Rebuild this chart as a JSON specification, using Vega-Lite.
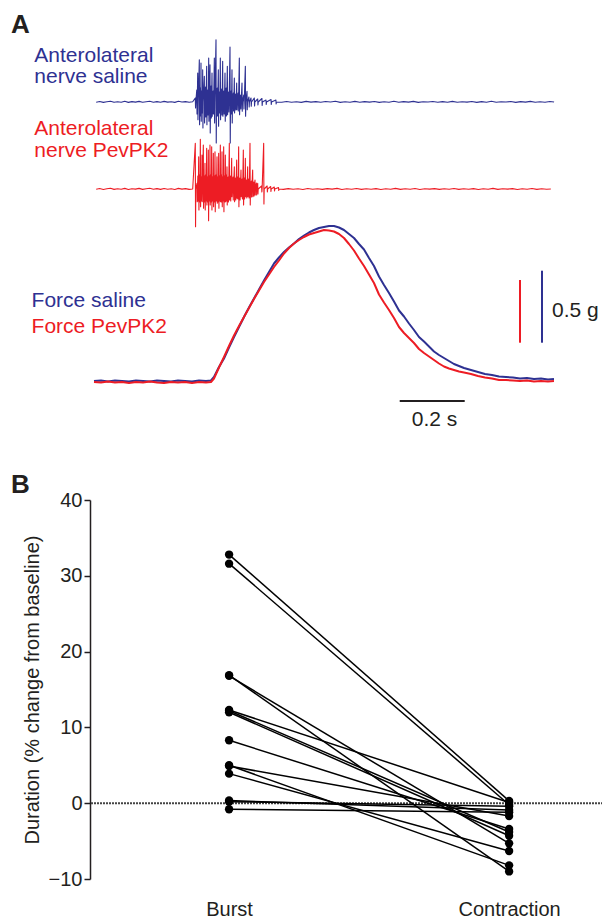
{
  "$schema": "https://vega.github.io/schema/vega-lite/v6.json",
  "padding": {"left": 10, "top": 0, "right": 0, "bottom": 0},
  "spacing": 12,
  "config": {
    "view": {"stroke": null},
    "font": "Liberation Sans",
    "axis": {"domainColor": "#231f20", "domainWidth": 1.5, "tickColor": "#231f20", "tickWidth": 1.5, "tickSize": 6, "labelFont": "Liberation Sans", "labelFontSize": 20, "labelColor": "#231f20", "labelPadding": 2, "titleFont": "Liberation Sans", "titleFontSize": 20, "titleFontWeight": "normal", "titleColor": "#231f20", "titlePadding": 6, "grid": false},
    "axisX": {"domain": false, "ticks": false, "tickSize": 0, "labelPadding": 20}
  },
  "datasets": {
    "nerve": [
      {"s":"saline","t":0.019,"v":37.78},{"s":"saline","t":0.03,"v":37.85},{"s":"saline","t":0.041,"v":37.76},{"s":"saline","t":0.052,"v":37.82},{"s":"saline","t":0.063,"v":37.88},{"s":"saline","t":0.074,"v":37.77},{"s":"saline","t":0.085,"v":37.83},{"s":"saline","t":0.096,"v":37.78},{"s":"saline","t":0.107,"v":37.87},{"s":"saline","t":0.118,"v":37.76},{"s":"saline","t":0.129,"v":37.84},{"s":"saline","t":0.14,"v":37.79},{"s":"saline","t":0.151,"v":37.86},{"s":"saline","t":0.162,"v":37.77},{"s":"saline","t":0.173,"v":37.83},{"s":"saline","t":0.184,"v":37.88},{"s":"saline","t":0.195,"v":37.78},{"s":"saline","t":0.206,"v":37.84},{"s":"saline","t":0.217,"v":37.77},{"s":"saline","t":0.228,"v":37.86},{"s":"saline","t":0.239,"v":37.79},{"s":"saline","t":0.25,"v":37.83},{"s":"saline","t":0.261,"v":37.76},{"s":"saline","t":0.272,"v":37.87},{"s":"saline","t":0.283,"v":37.8},{"s":"saline","t":0.294,"v":37.84},{"s":"saline","t":0.305,"v":37.77},{"s":"saline","t":0.316,"v":37.82},
      {"s":"saline","t":0.324,"v":38.2},{"s":"saline","t":0.3248,"v":37.2},{"s":"saline","t":0.3256,"v":37.8},
      {"s":"saline","t":0.3285,"v":39.0},{"s":"saline","t":0.3293,"v":36.6},{"s":"saline","t":0.3301,"v":37.8},
      {"s":"saline","t":0.3314,"v":40.7},{"s":"saline","t":0.3322,"v":36.03},{"s":"saline","t":0.333,"v":37.8},
      {"s":"saline","t":0.3364,"v":42.03},{"s":"saline","t":0.3372,"v":35.53},{"s":"saline","t":0.338,"v":37.8},
      {"s":"saline","t":0.3392,"v":39.2},{"s":"saline","t":0.34,"v":36.4},{"s":"saline","t":0.3408,"v":37.8},
      {"s":"saline","t":0.3415,"v":41.7},{"s":"saline","t":0.3423,"v":35.87},{"s":"saline","t":0.3431,"v":37.8},
      {"s":"saline","t":0.3443,"v":38.9},{"s":"saline","t":0.3451,"v":36.7},{"s":"saline","t":0.3459,"v":37.8},
      {"s":"saline","t":0.3467,"v":41.03},{"s":"saline","t":0.3475,"v":35.2},{"s":"saline","t":0.3483,"v":37.8},
      {"s":"saline","t":0.3518,"v":40.37},{"s":"saline","t":0.3526,"v":35.7},{"s":"saline","t":0.3534,"v":37.8},
      {"s":"saline","t":0.3555,"v":39.3},{"s":"saline","t":0.3563,"v":36.3},{"s":"saline","t":0.3571,"v":37.8},
      {"s":"saline","t":0.359,"v":41.37},{"s":"saline","t":0.3598,"v":35.53},{"s":"saline","t":0.3606,"v":37.8},
      {"s":"saline","t":0.3625,"v":39.0},{"s":"saline","t":0.3633,"v":36.5},{"s":"saline","t":0.3641,"v":37.8},
      {"s":"saline","t":0.3652,"v":42.2},{"s":"saline","t":0.366,"v":35.87},{"s":"saline","t":0.3668,"v":37.8},
      {"s":"saline","t":0.3692,"v":41.53},{"s":"saline","t":0.37,"v":34.7},{"s":"saline","t":0.3708,"v":37.8},
      {"s":"saline","t":0.3725,"v":39.4},{"s":"saline","t":0.3733,"v":36.2},{"s":"saline","t":0.3741,"v":37.8},
      {"s":"saline","t":0.3754,"v":40.7},{"s":"saline","t":0.3762,"v":36.37},{"s":"saline","t":0.377,"v":37.8},
      {"s":"saline","t":0.379,"v":38.9},{"s":"saline","t":0.3798,"v":36.6},{"s":"saline","t":0.3806,"v":37.8},
      {"s":"saline","t":0.3826,"v":42.2},{"s":"saline","t":0.3834,"v":35.7},{"s":"saline","t":0.3842,"v":37.8},
      {"s":"saline","t":0.3877,"v":44.03},{"s":"saline","t":0.3885,"v":33.7},{"s":"saline","t":0.3893,"v":37.8},
      {"s":"saline","t":0.3915,"v":39.2},{"s":"saline","t":0.3923,"v":36.4},{"s":"saline","t":0.3931,"v":37.8},
      {"s":"saline","t":0.3949,"v":41.03},{"s":"saline","t":0.3957,"v":35.37},{"s":"saline","t":0.3965,"v":37.8},
      {"s":"saline","t":0.398,"v":38.8},{"s":"saline","t":0.3988,"v":36.7},{"s":"saline","t":0.3996,"v":37.8},
      {"s":"saline","t":0.401,"v":42.2},{"s":"saline","t":0.4018,"v":36.03},{"s":"saline","t":0.4026,"v":37.8},
      {"s":"saline","t":0.405,"v":39.1},{"s":"saline","t":0.4058,"v":36.5},{"s":"saline","t":0.4066,"v":37.8},
      {"s":"saline","t":0.4082,"v":41.87},{"s":"saline","t":0.409,"v":36.37},{"s":"saline","t":0.4098,"v":37.8},
      {"s":"saline","t":0.412,"v":38.9},{"s":"saline","t":0.4128,"v":36.6},{"s":"saline","t":0.4136,"v":37.8},
      {"s":"saline","t":0.4154,"v":40.7},{"s":"saline","t":0.4162,"v":35.87},{"s":"saline","t":0.417,"v":37.8},
      {"s":"saline","t":0.419,"v":39.2},{"s":"saline","t":0.4198,"v":36.4},{"s":"saline","t":0.4206,"v":37.8},
      {"s":"saline","t":0.4226,"v":41.37},{"s":"saline","t":0.4234,"v":36.53},{"s":"saline","t":0.4242,"v":37.8},
      {"s":"saline","t":0.4265,"v":38.8},{"s":"saline","t":0.4273,"v":36.8},{"s":"saline","t":0.4281,"v":37.8},
      {"s":"saline","t":0.4308,"v":43.3},{"s":"saline","t":0.4316,"v":33.7},{"s":"saline","t":0.4324,"v":37.8},
      {"s":"saline","t":0.434,"v":38.9},{"s":"saline","t":0.4348,"v":36.6},{"s":"saline","t":0.4356,"v":37.8},
      {"s":"saline","t":0.4369,"v":41.03},{"s":"saline","t":0.4377,"v":35.7},{"s":"saline","t":0.4385,"v":37.8},
      {"s":"saline","t":0.441,"v":38.7},{"s":"saline","t":0.4418,"v":36.9},{"s":"saline","t":0.4426,"v":37.8},
      {"s":"saline","t":0.4441,"v":40.2},{"s":"saline","t":0.4449,"v":36.7},{"s":"saline","t":0.4457,"v":37.8},
      {"s":"saline","t":0.448,"v":38.6},{"s":"saline","t":0.4488,"v":37.0},{"s":"saline","t":0.4496,"v":37.8},
      {"s":"saline","t":0.4513,"v":39.7},{"s":"saline","t":0.4521,"v":37.03},{"s":"saline","t":0.4529,"v":37.8},
      {"s":"saline","t":0.4555,"v":38.7},{"s":"saline","t":0.4563,"v":36.9},{"s":"saline","t":0.4571,"v":37.8},
      {"s":"saline","t":0.4595,"v":42.2},{"s":"saline","t":0.4603,"v":36.53},{"s":"saline","t":0.4611,"v":37.8},
      {"s":"saline","t":0.4635,"v":38.5},{"s":"saline","t":0.4643,"v":37.1},{"s":"saline","t":0.4651,"v":37.8},
      {"s":"saline","t":0.4677,"v":39.7},{"s":"saline","t":0.4685,"v":36.87},{"s":"saline","t":0.4693,"v":37.8},
      {"s":"saline","t":0.473,"v":38.5},{"s":"saline","t":0.4738,"v":37.1},{"s":"saline","t":0.4746,"v":37.8},
      {"s":"saline","t":0.478,"v":41.37},{"s":"saline","t":0.4788,"v":36.37},{"s":"saline","t":0.4796,"v":37.8},
      {"s":"saline","t":0.4831,"v":38.87},{"s":"saline","t":0.4839,"v":37.03},{"s":"saline","t":0.4847,"v":37.8},
      {"s":"saline","t":0.489,"v":38.3},{"s":"saline","t":0.4898,"v":37.3},{"s":"saline","t":0.4906,"v":37.8},
      {"s":"saline","t":0.4954,"v":38.2},{"s":"saline","t":0.4962,"v":37.37},{"s":"saline","t":0.497,"v":37.8},
      {"s":"saline","t":0.5056,"v":38.2},{"s":"saline","t":0.5064,"v":37.4},{"s":"saline","t":0.5072,"v":37.8},
      {"s":"saline","t":0.516,"v":38.1},{"s":"saline","t":0.5168,"v":37.5},{"s":"saline","t":0.5176,"v":37.8},
      {"s":"saline","t":0.529,"v":38.15},{"s":"saline","t":0.5298,"v":37.45},{"s":"saline","t":0.5306,"v":37.8},
      {"s":"saline","t":0.5415,"v":38.0},{"s":"saline","t":0.5423,"v":37.55},{"s":"saline","t":0.5431,"v":37.8},
      {"s":"saline","t":0.557,"v":38.05},{"s":"saline","t":0.5578,"v":37.55},{"s":"saline","t":0.5586,"v":37.8},
      {"s":"saline","t":0.572,"v":38.0},{"s":"saline","t":0.5728,"v":37.6},{"s":"saline","t":0.5736,"v":37.8},
      {"s":"saline","t":0.59,"v":37.77},{"s":"saline","t":0.605,"v":37.85},{"s":"saline","t":0.62,"v":37.78},{"s":"saline","t":0.635,"v":37.83},{"s":"saline","t":0.65,"v":37.76},{"s":"saline","t":0.665,"v":37.86},{"s":"saline","t":0.68,"v":37.79},{"s":"saline","t":0.695,"v":37.84},{"s":"saline","t":0.71,"v":37.77},{"s":"saline","t":0.725,"v":37.85},{"s":"saline","t":0.74,"v":37.8},{"s":"saline","t":0.755,"v":37.87},{"s":"saline","t":0.77,"v":37.76},{"s":"saline","t":0.785,"v":37.83},{"s":"saline","t":0.8,"v":37.78},{"s":"saline","t":0.815,"v":37.86},{"s":"saline","t":0.83,"v":37.77},{"s":"saline","t":0.845,"v":37.84},{"s":"saline","t":0.86,"v":37.79},{"s":"saline","t":0.875,"v":37.85},{"s":"saline","t":0.89,"v":37.76},{"s":"saline","t":0.905,"v":37.83},{"s":"saline","t":0.92,"v":37.78},{"s":"saline","t":0.935,"v":37.87},{"s":"saline","t":0.95,"v":37.77},{"s":"saline","t":0.965,"v":37.84},{"s":"saline","t":0.98,"v":37.79},{"s":"saline","t":0.995,"v":37.86},{"s":"saline","t":1.01,"v":37.76},{"s":"saline","t":1.025,"v":37.83},{"s":"saline","t":1.04,"v":37.8},{"s":"saline","t":1.055,"v":37.85},{"s":"saline","t":1.07,"v":37.77},{"s":"saline","t":1.085,"v":37.84},{"s":"saline","t":1.1,"v":37.78},{"s":"saline","t":1.115,"v":37.86},{"s":"saline","t":1.13,"v":37.77},{"s":"saline","t":1.145,"v":37.83},{"s":"saline","t":1.16,"v":37.79},{"s":"saline","t":1.175,"v":37.85},{"s":"saline","t":1.19,"v":37.76},{"s":"saline","t":1.205,"v":37.84},{"s":"saline","t":1.22,"v":37.78},{"s":"saline","t":1.235,"v":37.87},{"s":"saline","t":1.25,"v":37.77},{"s":"saline","t":1.265,"v":37.83},{"s":"saline","t":1.28,"v":37.8},{"s":"saline","t":1.295,"v":37.85},{"s":"saline","t":1.31,"v":37.76},{"s":"saline","t":1.325,"v":37.84},{"s":"saline","t":1.34,"v":37.79},{"s":"saline","t":1.355,"v":37.86},{"s":"saline","t":1.37,"v":37.77},{"s":"saline","t":1.385,"v":37.83},{"s":"saline","t":1.4,"v":37.78},{"s":"saline","t":1.415,"v":37.85},{"s":"saline","t":1.428,"v":37.8},

      {"s":"PevPK2","t":0.019,"v":29.08},{"s":"PevPK2","t":0.03,"v":29.15},{"s":"PevPK2","t":0.041,"v":29.05},{"s":"PevPK2","t":0.052,"v":29.12},{"s":"PevPK2","t":0.063,"v":29.17},{"s":"PevPK2","t":0.074,"v":29.06},{"s":"PevPK2","t":0.085,"v":29.13},{"s":"PevPK2","t":0.096,"v":29.08},{"s":"PevPK2","t":0.107,"v":29.16},{"s":"PevPK2","t":0.118,"v":29.05},{"s":"PevPK2","t":0.129,"v":29.13},{"s":"PevPK2","t":0.14,"v":29.09},{"s":"PevPK2","t":0.151,"v":29.16},{"s":"PevPK2","t":0.162,"v":29.06},{"s":"PevPK2","t":0.173,"v":29.12},{"s":"PevPK2","t":0.184,"v":29.17},{"s":"PevPK2","t":0.195,"v":29.07},{"s":"PevPK2","t":0.206,"v":29.14},{"s":"PevPK2","t":0.217,"v":29.06},{"s":"PevPK2","t":0.228,"v":29.15},{"s":"PevPK2","t":0.239,"v":29.08},{"s":"PevPK2","t":0.25,"v":29.13},{"s":"PevPK2","t":0.261,"v":29.05},{"s":"PevPK2","t":0.272,"v":29.16},{"s":"PevPK2","t":0.283,"v":29.09},{"s":"PevPK2","t":0.294,"v":29.14},{"s":"PevPK2","t":0.305,"v":29.06},{"s":"PevPK2","t":0.316,"v":29.1},
      {"s":"PevPK2","t":0.324,"v":33.67},{"s":"PevPK2","t":0.3248,"v":25.33},{"s":"PevPK2","t":0.3256,"v":29.1},
      {"s":"PevPK2","t":0.3292,"v":29.67},{"s":"PevPK2","t":0.33,"v":27.83},{"s":"PevPK2","t":0.3308,"v":29.1},
      {"s":"PevPK2","t":0.3318,"v":30.4},{"s":"PevPK2","t":0.3326,"v":27.9},{"s":"PevPK2","t":0.3334,"v":29.1},
      {"s":"PevPK2","t":0.3344,"v":32.33},{"s":"PevPK2","t":0.3352,"v":27.0},{"s":"PevPK2","t":0.336,"v":29.1},
      {"s":"PevPK2","t":0.337,"v":30.5},{"s":"PevPK2","t":0.3378,"v":27.8},{"s":"PevPK2","t":0.3386,"v":29.1},
      {"s":"PevPK2","t":0.3395,"v":34.07},{"s":"PevPK2","t":0.3403,"v":27.33},{"s":"PevPK2","t":0.3411,"v":29.1},
      {"s":"PevPK2","t":0.342,"v":30.3},{"s":"PevPK2","t":0.3428,"v":27.9},{"s":"PevPK2","t":0.3436,"v":29.1},
      {"s":"PevPK2","t":0.3446,"v":32.5},{"s":"PevPK2","t":0.3454,"v":27.83},{"s":"PevPK2","t":0.3462,"v":29.1},
      {"s":"PevPK2","t":0.3487,"v":33.5},{"s":"PevPK2","t":0.3495,"v":27.17},{"s":"PevPK2","t":0.3503,"v":29.1},
      {"s":"PevPK2","t":0.3513,"v":30.4},{"s":"PevPK2","t":0.3521,"v":27.8},{"s":"PevPK2","t":0.3529,"v":29.1},
      {"s":"PevPK2","t":0.3538,"v":31.67},{"s":"PevPK2","t":0.3546,"v":27.0},{"s":"PevPK2","t":0.3554,"v":29.1},
      {"s":"PevPK2","t":0.3565,"v":30.5},{"s":"PevPK2","t":0.3573,"v":27.9},{"s":"PevPK2","t":0.3581,"v":29.1},
      {"s":"PevPK2","t":0.359,"v":33.17},{"s":"PevPK2","t":0.3598,"v":27.5},{"s":"PevPK2","t":0.3606,"v":29.1},
      {"s":"PevPK2","t":0.3617,"v":30.3},{"s":"PevPK2","t":0.3625,"v":27.8},{"s":"PevPK2","t":0.3633,"v":29.1},
      {"s":"PevPK2","t":0.3641,"v":33.0},{"s":"PevPK2","t":0.3649,"v":25.93},{"s":"PevPK2","t":0.3657,"v":29.1},
      {"s":"PevPK2","t":0.3667,"v":30.4},{"s":"PevPK2","t":0.3675,"v":27.9},{"s":"PevPK2","t":0.3683,"v":29.1},
      {"s":"PevPK2","t":0.3692,"v":33.5},{"s":"PevPK2","t":0.37,"v":27.5},{"s":"PevPK2","t":0.3708,"v":29.1},
      {"s":"PevPK2","t":0.3718,"v":30.5},{"s":"PevPK2","t":0.3726,"v":27.8},{"s":"PevPK2","t":0.3734,"v":29.1},
      {"s":"PevPK2","t":0.3744,"v":33.33},{"s":"PevPK2","t":0.3752,"v":27.0},{"s":"PevPK2","t":0.376,"v":29.1},
      {"s":"PevPK2","t":0.377,"v":30.3},{"s":"PevPK2","t":0.3778,"v":27.9},{"s":"PevPK2","t":0.3786,"v":29.1},
      {"s":"PevPK2","t":0.3795,"v":32.67},{"s":"PevPK2","t":0.3803,"v":27.33},{"s":"PevPK2","t":0.3811,"v":29.1},
      {"s":"PevPK2","t":0.382,"v":30.4},{"s":"PevPK2","t":0.3828,"v":27.8},{"s":"PevPK2","t":0.3836,"v":29.1},
      {"s":"PevPK2","t":0.3846,"v":32.83},{"s":"PevPK2","t":0.3854,"v":26.83},{"s":"PevPK2","t":0.3862,"v":29.1},
      {"s":"PevPK2","t":0.3877,"v":30.5},{"s":"PevPK2","t":0.3885,"v":27.9},{"s":"PevPK2","t":0.3893,"v":29.1},
      {"s":"PevPK2","t":0.3908,"v":32.33},{"s":"PevPK2","t":0.3916,"v":27.67},{"s":"PevPK2","t":0.3924,"v":29.1},
      {"s":"PevPK2","t":0.3934,"v":30.3},{"s":"PevPK2","t":0.3942,"v":27.8},{"s":"PevPK2","t":0.395,"v":29.1},
      {"s":"PevPK2","t":0.3959,"v":32.67},{"s":"PevPK2","t":0.3967,"v":27.17},{"s":"PevPK2","t":0.3975,"v":29.1},
      {"s":"PevPK2","t":0.3985,"v":30.4},{"s":"PevPK2","t":0.3993,"v":27.9},{"s":"PevPK2","t":0.4001,"v":29.1},
      {"s":"PevPK2","t":0.401,"v":33.5},{"s":"PevPK2","t":0.4018,"v":27.83},{"s":"PevPK2","t":0.4026,"v":29.1},
      {"s":"PevPK2","t":0.4036,"v":30.5},{"s":"PevPK2","t":0.4044,"v":27.8},{"s":"PevPK2","t":0.4052,"v":29.1},
      {"s":"PevPK2","t":0.4062,"v":32.83},{"s":"PevPK2","t":0.407,"v":27.33},{"s":"PevPK2","t":0.4078,"v":29.1},
      {"s":"PevPK2","t":0.4088,"v":30.3},{"s":"PevPK2","t":0.4096,"v":27.9},{"s":"PevPK2","t":0.4104,"v":29.1},
      {"s":"PevPK2","t":0.4113,"v":33.33},{"s":"PevPK2","t":0.4121,"v":26.83},{"s":"PevPK2","t":0.4129,"v":29.1},
      {"s":"PevPK2","t":0.4139,"v":30.4},{"s":"PevPK2","t":0.4147,"v":27.8},{"s":"PevPK2","t":0.4155,"v":29.1},
      {"s":"PevPK2","t":0.4164,"v":32.5},{"s":"PevPK2","t":0.4172,"v":27.83},{"s":"PevPK2","t":0.418,"v":29.1},
      {"s":"PevPK2","t":0.419,"v":30.5},{"s":"PevPK2","t":0.4198,"v":27.9},{"s":"PevPK2","t":0.4206,"v":29.1},
      {"s":"PevPK2","t":0.4215,"v":31.33},{"s":"PevPK2","t":0.4223,"v":27.5},{"s":"PevPK2","t":0.4231,"v":29.1},
      {"s":"PevPK2","t":0.4251,"v":30.3},{"s":"PevPK2","t":0.4259,"v":27.8},{"s":"PevPK2","t":0.4267,"v":29.1},
      {"s":"PevPK2","t":0.4287,"v":33.67},{"s":"PevPK2","t":0.4295,"v":28.0},{"s":"PevPK2","t":0.4303,"v":29.1},
      {"s":"PevPK2","t":0.4323,"v":30.4},{"s":"PevPK2","t":0.4331,"v":27.9},{"s":"PevPK2","t":0.4339,"v":29.1},
      {"s":"PevPK2","t":0.4359,"v":32.17},{"s":"PevPK2","t":0.4367,"v":28.33},{"s":"PevPK2","t":0.4375,"v":29.1},
      {"s":"PevPK2","t":0.44,"v":30.3},{"s":"PevPK2","t":0.4408,"v":28.0},{"s":"PevPK2","t":0.4416,"v":29.1},
      {"s":"PevPK2","t":0.4441,"v":31.33},{"s":"PevPK2","t":0.4449,"v":27.83},{"s":"PevPK2","t":0.4457,"v":29.1},
      {"s":"PevPK2","t":0.4477,"v":30.2},{"s":"PevPK2","t":0.4485,"v":28.0},{"s":"PevPK2","t":0.4493,"v":29.1},
      {"s":"PevPK2","t":0.4513,"v":32.0},{"s":"PevPK2","t":0.4521,"v":28.17},{"s":"PevPK2","t":0.4529,"v":29.1},
      {"s":"PevPK2","t":0.4544,"v":30.3},{"s":"PevPK2","t":0.4552,"v":28.1},{"s":"PevPK2","t":0.456,"v":29.1},
      {"s":"PevPK2","t":0.4574,"v":33.33},{"s":"PevPK2","t":0.4582,"v":27.33},{"s":"PevPK2","t":0.459,"v":29.1},
      {"s":"PevPK2","t":0.461,"v":30.2},{"s":"PevPK2","t":0.4618,"v":28.0},{"s":"PevPK2","t":0.4626,"v":29.1},
      {"s":"PevPK2","t":0.4646,"v":31.0},{"s":"PevPK2","t":0.4654,"v":28.33},{"s":"PevPK2","t":0.4662,"v":29.1},
      {"s":"PevPK2","t":0.4682,"v":30.1},{"s":"PevPK2","t":0.469,"v":28.1},{"s":"PevPK2","t":0.4698,"v":29.1},
      {"s":"PevPK2","t":0.4718,"v":33.0},{"s":"PevPK2","t":0.4726,"v":27.5},{"s":"PevPK2","t":0.4734,"v":29.1},
      {"s":"PevPK2","t":0.4749,"v":30.2},{"s":"PevPK2","t":0.4757,"v":28.1},{"s":"PevPK2","t":0.4765,"v":29.1},
      {"s":"PevPK2","t":0.478,"v":32.17},{"s":"PevPK2","t":0.4788,"v":28.33},{"s":"PevPK2","t":0.4796,"v":29.1},
      {"s":"PevPK2","t":0.4816,"v":30.0},{"s":"PevPK2","t":0.4824,"v":28.2},{"s":"PevPK2","t":0.4832,"v":29.1},
      {"s":"PevPK2","t":0.4851,"v":31.33},{"s":"PevPK2","t":0.4859,"v":28.33},{"s":"PevPK2","t":0.4867,"v":29.1},
      {"s":"PevPK2","t":0.4887,"v":30.1},{"s":"PevPK2","t":0.4895,"v":28.2},{"s":"PevPK2","t":0.4903,"v":29.1},
      {"s":"PevPK2","t":0.4923,"v":33.67},{"s":"PevPK2","t":0.4931,"v":27.5},{"s":"PevPK2","t":0.4939,"v":29.1},
      {"s":"PevPK2","t":0.4964,"v":29.9},{"s":"PevPK2","t":0.4972,"v":28.3},{"s":"PevPK2","t":0.498,"v":29.1},
      {"s":"PevPK2","t":0.5005,"v":31.0},{"s":"PevPK2","t":0.5013,"v":28.33},{"s":"PevPK2","t":0.5021,"v":29.1},
      {"s":"PevPK2","t":0.5041,"v":29.8},{"s":"PevPK2","t":0.5049,"v":28.4},{"s":"PevPK2","t":0.5057,"v":29.1},
      {"s":"PevPK2","t":0.5077,"v":30.0},{"s":"PevPK2","t":0.5085,"v":28.5},{"s":"PevPK2","t":0.5093,"v":29.1},
      {"s":"PevPK2","t":0.512,"v":29.7},{"s":"PevPK2","t":0.5128,"v":28.5},{"s":"PevPK2","t":0.5136,"v":29.1},
      {"s":"PevPK2","t":0.516,"v":29.67},{"s":"PevPK2","t":0.5168,"v":28.6},{"s":"PevPK2","t":0.5176,"v":29.1},
      {"s":"PevPK2","t":0.528,"v":29.4},{"s":"PevPK2","t":0.5288,"v":28.8},{"s":"PevPK2","t":0.5296,"v":29.1},
      {"s":"PevPK2","t":0.5344,"v":33.67},{"s":"PevPK2","t":0.5352,"v":27.6},{"s":"PevPK2","t":0.536,"v":29.1},
      {"s":"PevPK2","t":0.545,"v":29.4},{"s":"PevPK2","t":0.5458,"v":28.8},{"s":"PevPK2","t":0.5466,"v":29.1},
      {"s":"PevPK2","t":0.556,"v":29.35},{"s":"PevPK2","t":0.5568,"v":28.85},{"s":"PevPK2","t":0.5576,"v":29.1},
      {"s":"PevPK2","t":0.567,"v":29.3},{"s":"PevPK2","t":0.5678,"v":28.9},{"s":"PevPK2","t":0.5686,"v":29.1},
      {"s":"PevPK2","t":0.58,"v":29.25},{"s":"PevPK2","t":0.5808,"v":28.95},{"s":"PevPK2","t":0.5816,"v":29.1},
      {"s":"PevPK2","t":0.595,"v":29.06},{"s":"PevPK2","t":0.61,"v":29.14},{"s":"PevPK2","t":0.625,"v":29.07},{"s":"PevPK2","t":0.64,"v":29.12},{"s":"PevPK2","t":0.655,"v":29.05},{"s":"PevPK2","t":0.67,"v":29.15},{"s":"PevPK2","t":0.685,"v":29.08},{"s":"PevPK2","t":0.7,"v":29.13},{"s":"PevPK2","t":0.715,"v":29.06},{"s":"PevPK2","t":0.73,"v":29.14},{"s":"PevPK2","t":0.745,"v":29.09},{"s":"PevPK2","t":0.76,"v":29.16},{"s":"PevPK2","t":0.775,"v":29.05},{"s":"PevPK2","t":0.79,"v":29.12},{"s":"PevPK2","t":0.805,"v":29.07},{"s":"PevPK2","t":0.82,"v":29.15},{"s":"PevPK2","t":0.835,"v":29.06},{"s":"PevPK2","t":0.85,"v":29.13},{"s":"PevPK2","t":0.865,"v":29.08},{"s":"PevPK2","t":0.88,"v":29.14},{"s":"PevPK2","t":0.895,"v":29.05},{"s":"PevPK2","t":0.91,"v":29.12},{"s":"PevPK2","t":0.925,"v":29.07},{"s":"PevPK2","t":0.94,"v":29.16},{"s":"PevPK2","t":0.955,"v":29.06},{"s":"PevPK2","t":0.97,"v":29.13},{"s":"PevPK2","t":0.985,"v":29.08},{"s":"PevPK2","t":1.0,"v":29.15},{"s":"PevPK2","t":1.015,"v":29.05},{"s":"PevPK2","t":1.03,"v":29.12},{"s":"PevPK2","t":1.045,"v":29.09},{"s":"PevPK2","t":1.06,"v":29.14},{"s":"PevPK2","t":1.075,"v":29.06},{"s":"PevPK2","t":1.09,"v":29.13},{"s":"PevPK2","t":1.105,"v":29.07},{"s":"PevPK2","t":1.12,"v":29.15},{"s":"PevPK2","t":1.135,"v":29.06},{"s":"PevPK2","t":1.15,"v":29.12},{"s":"PevPK2","t":1.165,"v":29.08},{"s":"PevPK2","t":1.18,"v":29.14},{"s":"PevPK2","t":1.195,"v":29.05},{"s":"PevPK2","t":1.21,"v":29.13},{"s":"PevPK2","t":1.225,"v":29.07},{"s":"PevPK2","t":1.24,"v":29.16},{"s":"PevPK2","t":1.255,"v":29.06},{"s":"PevPK2","t":1.27,"v":29.12},{"s":"PevPK2","t":1.285,"v":29.09},{"s":"PevPK2","t":1.3,"v":29.14},{"s":"PevPK2","t":1.315,"v":29.05},{"s":"PevPK2","t":1.33,"v":29.13},{"s":"PevPK2","t":1.345,"v":29.08},{"s":"PevPK2","t":1.36,"v":29.15},{"s":"PevPK2","t":1.375,"v":29.06},{"s":"PevPK2","t":1.39,"v":29.12},{"s":"PevPK2","t":1.405,"v":29.07},{"s":"PevPK2","t":1.418,"v":29.1}
    ],
    "force": [
      {"s":"saline","t":0.0123,"v":9.9},{"s":"saline","t":0.0338,"v":9.95},{"s":"saline","t":0.0554,"v":9.85},{"s":"saline","t":0.0769,"v":9.95},{"s":"saline","t":0.0985,"v":9.9},{"s":"saline","t":0.12,"v":9.85},{"s":"saline","t":0.1415,"v":9.95},{"s":"saline","t":0.1631,"v":9.9},{"s":"saline","t":0.1846,"v":9.85},{"s":"saline","t":0.2062,"v":9.95},{"s":"saline","t":0.2277,"v":9.9},{"s":"saline","t":0.2492,"v":9.85},{"s":"saline","t":0.2708,"v":9.95},{"s":"saline","t":0.2923,"v":9.9},{"s":"saline","t":0.3138,"v":9.85},{"s":"saline","t":0.3354,"v":9.95},{"s":"saline","t":0.3569,"v":9.9},{"s":"saline","t":0.3723,"v":9.95},{"s":"saline","t":0.3815,"v":10.3},{"s":"saline","t":0.3969,"v":11.3},{"s":"saline","t":0.4123,"v":12.15},{"s":"saline","t":0.4277,"v":13.25},{"s":"saline","t":0.4431,"v":14.3},{"s":"saline","t":0.4585,"v":15.3},{"s":"saline","t":0.4738,"v":16.3},{"s":"saline","t":0.4892,"v":17.25},{"s":"saline","t":0.5046,"v":18.15},{"s":"saline","t":0.52,"v":19.05},{"s":"saline","t":0.5354,"v":19.95},{"s":"saline","t":0.5508,"v":20.8},{"s":"saline","t":0.5662,"v":21.65},{"s":"saline","t":0.5815,"v":22.25},{"s":"saline","t":0.5969,"v":22.8},{"s":"saline","t":0.6123,"v":23.25},{"s":"saline","t":0.6277,"v":23.65},{"s":"saline","t":0.6431,"v":24.1},{"s":"saline","t":0.6585,"v":24.45},{"s":"saline","t":0.6738,"v":24.75},{"s":"saline","t":0.6892,"v":25.0},{"s":"saline","t":0.7046,"v":25.2},{"s":"saline","t":0.72,"v":25.3},{"s":"saline","t":0.7354,"v":25.4},{"s":"saline","t":0.7508,"v":25.4},{"s":"saline","t":0.7662,"v":25.25},{"s":"saline","t":0.7815,"v":25.0},{"s":"saline","t":0.7969,"v":24.6},{"s":"saline","t":0.8123,"v":24.2},{"s":"saline","t":0.8277,"v":23.6},{"s":"saline","t":0.8431,"v":23.05},{"s":"saline","t":0.8585,"v":22.2},{"s":"saline","t":0.8738,"v":21.4},{"s":"saline","t":0.8892,"v":20.35},{"s":"saline","t":0.9046,"v":19.5},{"s":"saline","t":0.92,"v":18.7},{"s":"saline","t":0.9354,"v":17.85},{"s":"saline","t":0.9508,"v":16.95},{"s":"saline","t":0.9662,"v":16.35},{"s":"saline","t":0.9815,"v":15.65},{"s":"saline","t":0.9969,"v":15.0},{"s":"saline","t":1.0123,"v":14.3},{"s":"saline","t":1.0277,"v":13.85},{"s":"saline","t":1.0431,"v":13.35},{"s":"saline","t":1.0585,"v":12.85},{"s":"saline","t":1.0738,"v":12.5},{"s":"saline","t":1.0892,"v":12.2},{"s":"saline","t":1.1046,"v":11.9},{"s":"saline","t":1.12,"v":11.6},{"s":"saline","t":1.1354,"v":11.4},{"s":"saline","t":1.1508,"v":11.2},{"s":"saline","t":1.1723,"v":11.0},{"s":"saline","t":1.1938,"v":10.8},{"s":"saline","t":1.2154,"v":10.6},{"s":"saline","t":1.2369,"v":10.5},{"s":"saline","t":1.2585,"v":10.35},{"s":"saline","t":1.28,"v":10.3},{"s":"saline","t":1.3015,"v":10.25},{"s":"saline","t":1.3231,"v":10.15},{"s":"saline","t":1.3446,"v":10.2},{"s":"saline","t":1.3662,"v":10.1},{"s":"saline","t":1.3877,"v":10.15},{"s":"saline","t":1.4092,"v":10.05},{"s":"saline","t":1.4277,"v":10.1},
      {"s":"PevPK2","t":0.0123,"v":9.8},{"s":"PevPK2","t":0.0338,"v":9.75},{"s":"PevPK2","t":0.0554,"v":9.85},{"s":"PevPK2","t":0.0769,"v":9.75},{"s":"PevPK2","t":0.0985,"v":9.8},{"s":"PevPK2","t":0.12,"v":9.7},{"s":"PevPK2","t":0.1415,"v":9.8},{"s":"PevPK2","t":0.1631,"v":9.75},{"s":"PevPK2","t":0.1846,"v":9.85},{"s":"PevPK2","t":0.2062,"v":9.75},{"s":"PevPK2","t":0.2277,"v":9.7},{"s":"PevPK2","t":0.2492,"v":9.8},{"s":"PevPK2","t":0.2708,"v":9.75},{"s":"PevPK2","t":0.2923,"v":9.8},{"s":"PevPK2","t":0.3138,"v":9.7},{"s":"PevPK2","t":0.3354,"v":9.8},{"s":"PevPK2","t":0.3569,"v":9.75},{"s":"PevPK2","t":0.3723,"v":9.8},{"s":"PevPK2","t":0.3815,"v":10.15},{"s":"PevPK2","t":0.3969,"v":11.25},{"s":"PevPK2","t":0.4123,"v":12.3},{"s":"PevPK2","t":0.4277,"v":13.4},{"s":"PevPK2","t":0.4431,"v":14.45},{"s":"PevPK2","t":0.4585,"v":15.4},{"s":"PevPK2","t":0.4738,"v":16.3},{"s":"PevPK2","t":0.4892,"v":17.2},{"s":"PevPK2","t":0.5046,"v":18.1},{"s":"PevPK2","t":0.52,"v":18.95},{"s":"PevPK2","t":0.5354,"v":19.8},{"s":"PevPK2","t":0.5508,"v":20.55},{"s":"PevPK2","t":0.5662,"v":21.3},{"s":"PevPK2","t":0.5815,"v":21.95},{"s":"PevPK2","t":0.5969,"v":22.65},{"s":"PevPK2","t":0.6123,"v":23.2},{"s":"PevPK2","t":0.6277,"v":23.65},{"s":"PevPK2","t":0.6431,"v":24.0},{"s":"PevPK2","t":0.6585,"v":24.3},{"s":"PevPK2","t":0.6738,"v":24.55},{"s":"PevPK2","t":0.6892,"v":24.7},{"s":"PevPK2","t":0.7046,"v":24.85},{"s":"PevPK2","t":0.72,"v":25.0},{"s":"PevPK2","t":0.7354,"v":24.95},{"s":"PevPK2","t":0.7508,"v":24.85},{"s":"PevPK2","t":0.7662,"v":24.6},{"s":"PevPK2","t":0.7815,"v":24.2},{"s":"PevPK2","t":0.7969,"v":23.6},{"s":"PevPK2","t":0.8123,"v":22.95},{"s":"PevPK2","t":0.8277,"v":22.15},{"s":"PevPK2","t":0.8431,"v":21.4},{"s":"PevPK2","t":0.8585,"v":20.55},{"s":"PevPK2","t":0.8738,"v":19.7},{"s":"PevPK2","t":0.8892,"v":18.55},{"s":"PevPK2","t":0.9046,"v":17.75},{"s":"PevPK2","t":0.92,"v":17.0},{"s":"PevPK2","t":0.9354,"v":16.2},{"s":"PevPK2","t":0.9508,"v":15.3},{"s":"PevPK2","t":0.9662,"v":14.7},{"s":"PevPK2","t":0.9815,"v":14.2},{"s":"PevPK2","t":0.9969,"v":13.7},{"s":"PevPK2","t":1.0123,"v":13.1},{"s":"PevPK2","t":1.0277,"v":12.7},{"s":"PevPK2","t":1.0431,"v":12.35},{"s":"PevPK2","t":1.0585,"v":12.0},{"s":"PevPK2","t":1.0738,"v":11.65},{"s":"PevPK2","t":1.0892,"v":11.35},{"s":"PevPK2","t":1.1046,"v":11.15},{"s":"PevPK2","t":1.12,"v":11.0},{"s":"PevPK2","t":1.1354,"v":10.85},{"s":"PevPK2","t":1.1508,"v":10.75},{"s":"PevPK2","t":1.1723,"v":10.6},{"s":"PevPK2","t":1.1938,"v":10.4},{"s":"PevPK2","t":1.2154,"v":10.25},{"s":"PevPK2","t":1.2369,"v":10.15},{"s":"PevPK2","t":1.2585,"v":10.0},{"s":"PevPK2","t":1.28,"v":10.0},{"s":"PevPK2","t":1.3015,"v":9.95},{"s":"PevPK2","t":1.3231,"v":9.9},{"s":"PevPK2","t":1.3446,"v":9.95},{"s":"PevPK2","t":1.3662,"v":9.85},{"s":"PevPK2","t":1.3877,"v":9.9},{"s":"PevPK2","t":1.4092,"v":9.85},{"s":"PevPK2","t":1.4277,"v":9.9}
    ],
    "labelsA": [
      {"label":"Anterolateral","s":"saline","t":-0.1714,"v":41.83},
      {"label":"nerve saline","s":"saline","t":-0.1714,"v":39.67},
      {"label":"Anterolateral","s":"PevPK2","t":-0.1714,"v":34.5},
      {"label":"nerve PevPK2","s":"PevPK2","t":-0.1714,"v":32.33},
      {"label":"Force saline","s":"saline","t":-0.1797,"v":17.27},
      {"label":"Force PevPK2","s":"PevPK2","t":-0.1797,"v":14.67},
      {"label":"0.5 g","s":"scale","t":1.4215,"v":16.33},
      {"label":"0.2 s","s":"scale","t":0.9902,"v":5.43}
    ],
    "pairs": [
      {"id":1,"cond":"Burst","value":32.8},{"id":1,"cond":"Contraction","value":0.3},
      {"id":2,"cond":"Burst","value":31.6},{"id":2,"cond":"Contraction","value":-0.2},
      {"id":3,"cond":"Burst","value":16.9},{"id":3,"cond":"Contraction","value":-9.0},
      {"id":4,"cond":"Burst","value":16.8},{"id":4,"cond":"Contraction","value":-5.3},
      {"id":5,"cond":"Burst","value":12.3},{"id":5,"cond":"Contraction","value":0.1},
      {"id":6,"cond":"Burst","value":12.2},{"id":6,"cond":"Contraction","value":-3.8},
      {"id":7,"cond":"Burst","value":12.0},{"id":7,"cond":"Contraction","value":-4.3},
      {"id":8,"cond":"Burst","value":8.3},{"id":8,"cond":"Contraction","value":-3.4},
      {"id":9,"cond":"Burst","value":5.0},{"id":9,"cond":"Contraction","value":-8.2},
      {"id":10,"cond":"Burst","value":4.9},{"id":10,"cond":"Contraction","value":-1.7},
      {"id":11,"cond":"Burst","value":3.9},{"id":11,"cond":"Contraction","value":-6.3},
      {"id":12,"cond":"Burst","value":0.35},{"id":12,"cond":"Contraction","value":-0.9},
      {"id":13,"cond":"Burst","value":0.2},{"id":13,"cond":"Contraction","value":-0.4},
      {"id":14,"cond":"Burst","value":-0.8},{"id":14,"cond":"Contraction","value":-1.2}
    ]
  },
  "vconcat": [
    {
      "width": 513,
      "height": 460,
      "encoding": {
        "x": {"field": "t", "type": "quantitative", "scale": {"domain": [0, 1.5785], "nice": false, "zero": false}, "axis": null},
        "y": {"field": "v", "type": "quantitative", "scale": {"domain": [2, 48], "nice": false, "zero": false}, "axis": null},
        "color": {"field": "s", "type": "nominal", "scale": {"domain": ["saline", "PevPK2", "scale"], "range": ["#2e3192", "#ed1c24", "#231f20"]}, "legend": null}
      },
      "layer": [
        {"data": {"name": "nerve"}, "mark": {"type": "line", "strokeWidth": 1.1, "strokeJoin": "round"}, "encoding": {"order": {"value": null}}},
        {"data": {"name": "force"}, "mark": {"type": "line", "strokeWidth": 2, "strokeJoin": "round"}, "encoding": {"order": {"value": null}}},
        {"data": {"values": [{"s": "PevPK2", "t": 1.3231, "v": 13.73, "v2": 20.0}, {"s": "saline", "t": 1.3908, "v": 13.73, "v2": 20.93}]}, "mark": {"type": "rule", "strokeWidth": 2}, "encoding": {"y2": {"field": "v2"}}},
        {"data": {"values": [{"s": "scale", "t": 0.953, "t2": 1.153, "v": 7.9}]}, "mark": {"type": "rule", "strokeWidth": 2}, "encoding": {"x2": {"field": "t2"}}},
        {"data": {"name": "labelsA"}, "mark": {"type": "text", "align": "left", "baseline": "alphabetic", "fontSize": 21, "font": "Liberation Sans"}, "encoding": {"text": {"field": "label"}}},
        {"data": {"values": [{"label": "A", "s": "scale", "t": -0.2431, "v": 44.67}]}, "mark": {"type": "text", "align": "left", "baseline": "alphabetic", "fontSize": 26, "fontWeight": "bold", "font": "Liberation Sans"}, "encoding": {"text": {"field": "label"}}}
      ]
    },
    {
      "width": 513,
      "height": 379,
      "title": {"text": "B", "anchor": "start", "frame": "group", "dx": -79, "offset": -29, "baseline": "alphabetic", "fontSize": 26, "fontWeight": "bold", "color": "#231f20", "font": "Liberation Sans"},
      "layer": [
        {"data": {"values": [{"value": 0}]}, "mark": {"type": "rule", "color": "#444444", "strokeWidth": 2, "strokeDash": [2, 1]},
         "encoding": {"y": {"field": "value", "type": "quantitative", "scale": {"domain": [-10, 40], "nice": false, "zero": false}, "title": "Duration (% change from baseline)", "axis": {"values": [-10, 0, 10, 20, 30, 40]}}}},
        {"data": {"name": "pairs"}, "mark": {"type": "line", "color": "#000000", "strokeWidth": 1.5},
         "encoding": {
           "x": {"field": "cond", "type": "nominal", "scale": {"type": "point", "domain": ["Burst", "Contraction"], "padding": 0.416, "align": 0.597}, "title": null, "axis": {"labelAngle": 0}},
           "y": {"field": "value", "type": "quantitative", "title": "Duration (% change from baseline)"},
           "detail": {"field": "id", "type": "nominal"}}},
        {"data": {"name": "pairs"}, "mark": {"type": "circle", "color": "#000000", "size": 70, "opacity": 1},
         "encoding": {
           "x": {"field": "cond", "type": "nominal", "title": null},
           "y": {"field": "value", "type": "quantitative", "title": "Duration (% change from baseline)"}}}
      ]
    }
  ]
}
